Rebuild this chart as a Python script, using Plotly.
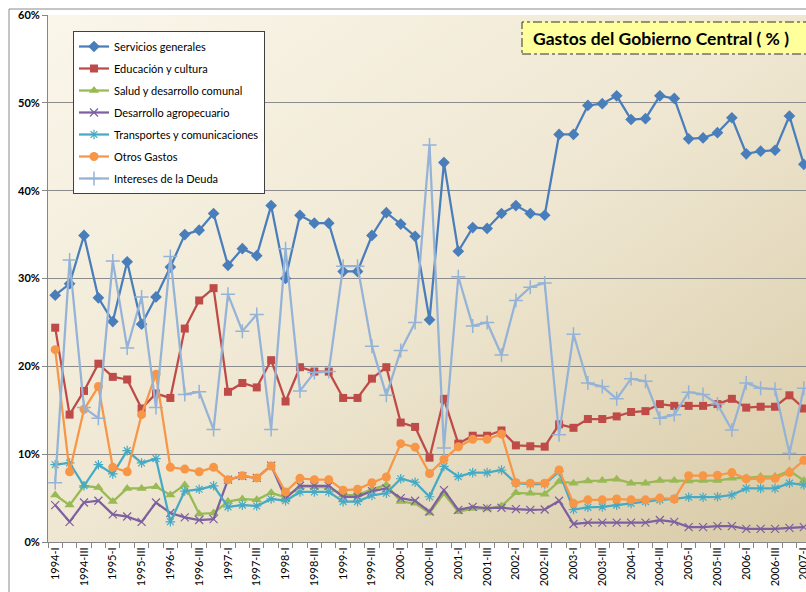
import base64
import plotly.graph_objects as go

YEARS = list(range(1994, 2008))
ROMAN = ["I", "II", "III", "IV"]
QUARTERS = [f"{y}-{r}" for y in YEARS for r in ROMAN][:53]

servicios = [28.1, 29.4, 34.9, 27.8, 25.1, 31.9, 24.8, 27.9, 31.3, 35.0, 35.5, 37.4, 31.5, 33.4, 32.6, 38.3,
             30.0, 37.2, 36.3, 36.3, 30.8, 30.8, 34.9, 37.5, 36.2, 34.8, 25.3, 43.2, 33.1, 35.8, 35.7, 37.4,
             38.3, 37.4, 37.2, 46.4, 46.4, 49.7, 49.9, 50.8, 48.1, 48.2, 50.8, 50.5, 45.9, 46.0, 46.6, 48.3,
             44.2, 44.5, 44.6, 48.5, 43.0]
educacion = [24.4, 14.5, 17.2, 20.3, 18.8, 18.5, 15.2, 16.9, 16.4, 24.3, 27.5, 28.9, 17.1, 18.1, 17.6, 20.7,
             16.0, 19.9, 19.4, 19.4, 16.4, 16.4, 18.6, 19.9, 13.6, 13.1, 9.6, 16.3, 11.2, 12.1, 12.1, 12.7,
             11.0, 10.9, 10.85, 13.4, 13.0, 14.0, 14.0, 14.3, 14.8, 14.9, 15.7, 15.5, 15.5, 15.5, 15.7, 16.3,
             15.3, 15.4, 15.4, 16.7, 15.2]
salud = [5.35, 4.2, 6.4, 6.2, 4.6, 6.1, 6.1, 6.3, 5.35, 6.5, 3.2, 3.3, 4.6, 4.9, 4.8, 5.6,
         5.1, 6.3, 6.3, 6.2, 5.35, 5.35, 6.0, 6.5, 4.6, 4.4, 3.3, 5.5, 3.45, 3.8, 3.8, 4.1,
         5.6, 5.55, 5.45, 6.9, 6.7, 6.95, 7.0, 7.15, 6.7, 6.7, 7.0, 7.0, 6.95, 7.0, 7.0, 7.25,
         7.3, 7.45, 7.45, 8.1, 7.0]
agropecuario = [4.2, 2.3, 4.5, 4.7, 3.15, 2.9, 2.3, 4.5, 3.3, 2.8, 2.5, 2.6, 7.1, 7.5, 7.3, 8.7,
                5.0, 6.4, 6.4, 6.4, 5.15, 5.15, 5.8, 6.1, 5.0, 4.7, 3.45, 5.9, 3.65, 4.0, 3.85, 3.9,
                3.75, 3.65, 3.7, 4.7, 2.05, 2.2, 2.2, 2.2, 2.2, 2.2, 2.5, 2.3, 1.7, 1.7, 1.8, 1.8,
                1.5, 1.5, 1.5, 1.6, 1.7]
transportes = [8.8, 9.0, 6.4, 8.8, 7.75, 10.4, 9.0, 9.5, 2.3, 5.8, 6.0, 6.4, 4.0, 4.2, 4.1, 4.9,
               4.7, 5.7, 5.7, 5.7, 4.6, 4.6, 5.3, 5.55, 7.2, 6.8, 5.15, 8.6, 7.45, 7.9, 7.9, 8.2,
               6.7, 6.6, 6.6, 8.0, 3.7, 3.95, 4.0, 4.2, 4.4, 4.6, 4.8, 4.9, 5.1, 5.1, 5.15, 5.35,
               6.1, 6.1, 6.1, 6.7, 6.5]
otros = [21.9, 8.0, 15.1, 17.7, 8.5, 8.0, 14.5, 19.1, 8.5, 8.3, 8.0, 8.5, 7.1, 7.55, 7.3, 8.65,
         5.7, 7.25, 7.1, 7.1, 5.9, 6.0, 6.75, 7.4, 11.2, 10.8, 7.8, 9.4, 10.85, 11.7, 11.7, 12.3,
         6.75, 6.7, 6.7, 8.2, 4.4, 4.8, 4.8, 4.9, 4.8, 4.8, 5.0, 4.9, 7.55, 7.55, 7.6, 7.9,
         7.2, 7.2, 7.25, 7.9, 9.3]
intereses = [6.75, 32.1, 15.3, 14.1, 32.0, 22.1, 27.9, 15.3, 32.5, 16.8, 17.1, 12.8, 28.2, 24.0, 25.9, 12.8,
             33.4, 17.2, 19.3, 19.4, 31.4, 31.4, 22.3, 16.7, 21.8, 25.0, 45.2, 10.7, 30.2, 24.6, 25.0, 21.3,
             27.5, 29.0, 29.5, 12.2, 23.65, 18.1, 17.7, 16.3, 18.6, 18.3, 14.1, 14.5, 17.05, 16.8, 15.7, 12.75,
             18.1, 17.5, 17.4, 10.1, 17.5]

SERIES_NAMES = ["Servicios generales", "Educación y cultura", "Salud y desarrollo comunal",
                "Desarrollo agropecuario", "Transportes y comunicaciones", "Otros Gastos",
                "Intereses de la Deuda"]
Y_TICKS = [0, 10, 20, 30, 40, 50, 60]
Y_TICKTEXT = ["0%", "10%", "20%", "30%", "40%", "50%", "60%"]
TITLE = "Gastos del Gobierno Central ( % )"

series = [servicios, educacion, salud, agropecuario, transportes, otros, intereses]
styles = [
    dict(color="#4a7ebb", symbol="diamond", size=9, lw=0),
    dict(color="#be4b48", symbol="square", size=8, lw=0),
    dict(color="#98b954", symbol="triangle-up", size=9, lw=0),
    dict(color="#7d60a0", symbol="x-thin", size=8, lw=1.2),
    dict(color="#46aac5", symbol="asterisk", size=8, lw=1.2),
    dict(color="#f79646", symbol="circle", size=9, lw=0),
    dict(color="#95b3d7", symbol="cross-thin", size=10, lw=1.5),
]

xs = list(range(len(QUARTERS)))
fig = go.Figure()
for k, (name, vals, st) in enumerate(zip(SERIES_NAMES, series, styles)):
    fig.add_trace(go.Scatter(
        x=xs, y=vals, name=name, mode="lines+markers", legendgroup=f"g{k}",
        line=dict(color=st["color"], width=2.25),
        marker=dict(symbol=st["symbol"], size=st["size"], color=st["color"],
                    line=dict(color=st["color"], width=st["lw"])),
    ))

W, H = 806, 592
L, T, B = 48, 15, 50
PW = W - L
PH = H - T - B


def px(xpix):
    return (xpix - L) / PW


def py(ypix):
    return (H - B - ypix) / PH


svg = ('<svg xmlns="http://www.w3.org/2000/svg" width="100" height="100" viewBox="0 0 100 100" '
       'preserveAspectRatio="none"><defs><linearGradient id="g" x1="0" y1="0" x2="1" y2="1">'
       '<stop offset="0" stop-color="#faf6ea"/><stop offset="0.5" stop-color="#efe7d2"/>'
       '<stop offset="1" stop-color="#d8caa6"/></linearGradient></defs>'
       '<rect x="0" y="0" width="100" height="100" fill="url(#g)"/></svg>')
src = "data:image/svg+xml;base64," + base64.b64encode(svg.encode()).decode()

fig.update_layout(
    width=W, height=H,
    margin=dict(l=L, r=0, t=T, b=B),
    paper_bgcolor="white",
    plot_bgcolor="rgba(0,0,0,0)",
    font=dict(family="Lato, Carlito, Calibri, sans-serif", size=11, color="black"),
    images=[dict(source=src, xref="paper", yref="paper", x=0, y=1, sizex=1, sizey=1,
                 sizing="stretch", layer="below", xanchor="left", yanchor="top")],
    showlegend=True,
    legend=dict(x=px(73), y=py(31), xanchor="left", yanchor="top",
                bgcolor="white", bordercolor="#404040", borderwidth=1,
                font=dict(size=11, family="Lato, Carlito, sans-serif"),
                tracegroupgap=3, itemwidth=30),
    xaxis=dict(range=[-0.5, 52.15], tickmode="array", tickvals=xs[::2],
               ticktext=QUARTERS[::2], tickangle=-90, ticks="", showgrid=False,
               showline=True, linecolor="#868686", linewidth=1, zeroline=False,
               tickfont=dict(size=11), automargin=False, ticklabeloverflow="allow",
               minor=dict(ticks="outside", tick0=-0.5, dtick=1, ticklen=5,
                          tickcolor="#868686", showgrid=False)),
    yaxis=dict(range=[0, 60], tickmode="array", tickvals=Y_TICKS, ticktext=Y_TICKTEXT,
               showgrid=True, gridcolor="#8c8c8c", gridwidth=1, zeroline=False,
               showline=True, linecolor="#868686", linewidth=1,
               ticks="outside", ticklen=5, tickcolor="#868686",
               tickfont=dict(size=11, weight="bold"), automargin=False),
    shapes=[
        dict(type="rect", xref="paper", yref="paper", x0=px(9), x1=px(840), y0=py(640), y1=py(9),
             line=dict(color="#8a8a8a", width=1), fillcolor="rgba(0,0,0,0)", layer="above"),
        dict(type="rect", xref="paper", yref="paper", x0=px(522), x1=px(840), y0=py(54), y1=py(22),
             line=dict(color="#333333", width=1, dash="dashdot"), fillcolor="#ffff9c", layer="above"),
    ],
    annotations=[dict(text=TITLE, xref="paper", yref="paper", x=px(531), y=py(38),
                      xanchor="left", yanchor="middle", showarrow=False,
                      font=dict(size=17.5, weight="bold", family="Lato, Carlito, sans-serif", color="black"))],
)

fig.write_html("out.html", config={"displayModeBar": False},
               post_script="document.body.style.margin='0';document.body.style.overflow='hidden';")
